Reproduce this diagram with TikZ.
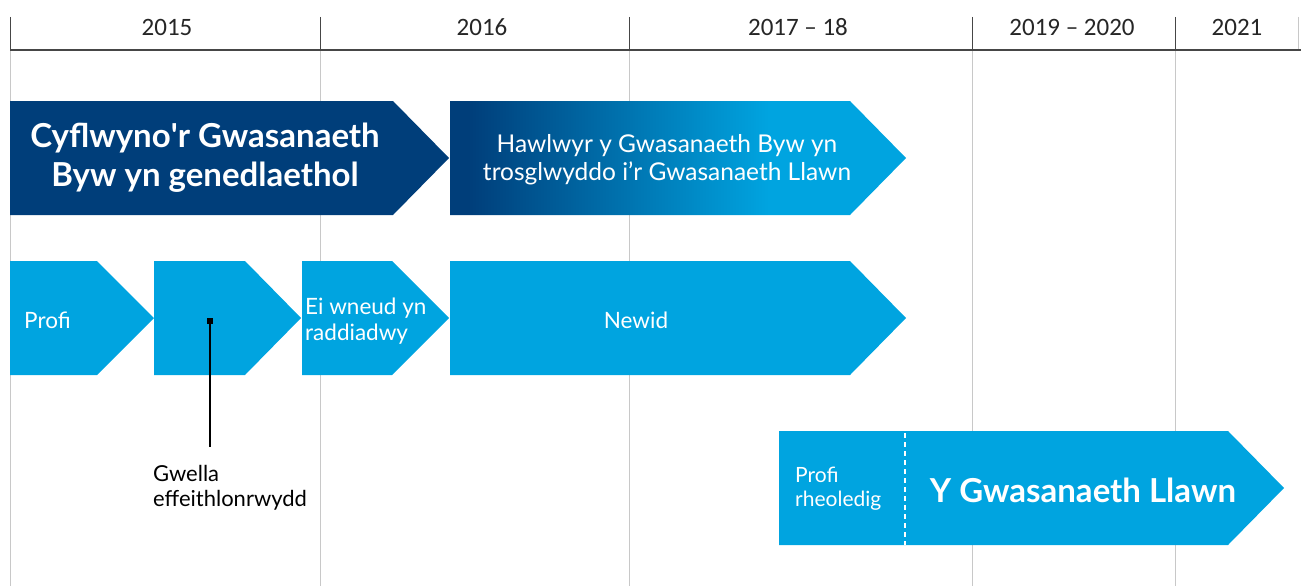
\documentclass[tikz,border=0pt]{standalone}
\usepackage{fontspec}
\usetikzlibrary{calc}
\setmainfont{Lato}
\newfontfamily\yearfont{Carlito}
\definecolor{navy}{RGB}{0,62,122}
\definecolor{sky}{RGB}{0,164,224}
\definecolor{gridgray}{RGB}{200,200,200}
\definecolor{axisgray}{RGB}{70,70,70}
\pgfdeclarehorizontalshading{navysky}{100bp}{color(0bp)=(navy); color(27bp)=(navy); color(60bp)=(sky); color(100bp)=(sky)}
\begin{document}
\begin{tikzpicture}[x=1pt,y=-1pt,
  yearlbl/.style={font=\yearfont\fontsize{25}{28}\selectfont, text=black!85, anchor=center},
  boxtxt/.style={text=white, align=center, inner sep=0pt},
  lighttxt/.style={boxtxt, font=\fontsize{24.5}{28}\selectfont},
  rowtxt/.style={boxtxt, font=\fontsize{22.5}{26}\selectfont},
  boldtxt/.style={boxtxt, font=\bfseries\fontsize{33}{39}\selectfont},
  gridline/.style={draw=gridgray, line width=1pt},
  tickline/.style={draw=axisgray, line width=1pt},
]
\useasboundingbox (0,0) rectangle (1301,586);
% grid lines
\foreach \x in {10,320,629,972,1175} {
  \draw[gridline] (\x,50) -- (\x,586);
  \draw[tickline] (\x,17) -- (\x,50);
}
\draw[gridline] (1298,17) -- (1298,50);
\draw[axisgray, line width=1.5pt] (10,50) -- (1301,50);
% year labels
\node[yearlbl] (y15) at (167,27) {2015};
\node[yearlbl] (y16) at (482,27) {2016};
\node[yearlbl] (y17) at (798,27) {2017 – 18};
\node[yearlbl] (y19) at (1072,27) {2019 – 2020};
\node[yearlbl] (y21) at (1237,27) {2021};
% row 1
\fill[navy] (10,101) -- (393,101) -- (449,158) -- (393,215) -- (10,215) -- cycle;
\node[boldtxt] (live) at (205,158) {Cyflwyno\textquotesingle r Gwasanaeth\\Byw yn genedlaethol};
\shade[shading=navysky] (450,101) -- (850,101) -- (906,158) -- (850,215) -- (450,215) -- cycle;
\node[lighttxt] (transfer) at (667,160) {Hawlwyr y Gwasanaeth Byw yn\\trosglwyddo i’r Gwasanaeth Llawn};
% row 2
\fill[sky] (10,261) -- (97,261) -- (154,318) -- (97,375) -- (10,375) -- cycle;
\node[rowtxt, anchor=west] (profi) at (24,320) {Profi};
\fill[sky] (154,261) -- (245,261) -- (301,318) -- (245,375) -- (154,375) -- cycle;
\fill[sky] (302,261) -- (392,261) -- (449,318) -- (392,375) -- (302,375) -- cycle;
\node[rowtxt, anchor=west, align=left] (scale) at (305,321) {Ei wneud yn\\raddiadwy};
\fill[sky] (450,261) -- (850,261) -- (906,318) -- (850,375) -- (450,375) -- cycle;
\node[rowtxt] (newid) at (636,320) {Newid};
% effectiveness annotation
\coordinate (sq) at (210,321);
\node[anchor=north west, align=left, inner sep=0pt, font=\fontsize{22}{25}\selectfont, text=black] (gwella) at (153,465) {Gwella\\effeithlonrwydd};
\fill[black] ($(sq)+(-3,-3)$) rectangle ($(sq)+(3,3)$);
\draw[black, line width=1.3pt] (sq) -- (sq |- 0,447);
% row 3
\fill[sky] (779,431) -- (1228,431) -- (1284,488) -- (1228,545) -- (779,545) -- cycle;
\draw[white, line width=2.5pt, dash pattern=on 5pt off 4pt] (905,433) -- (905,545);
\node[boxtxt, anchor=west, align=left, font=\fontsize{21}{24}\selectfont] (rheol) at (795,489) {Profi\\rheoledig};
\node[boxtxt, font=\bfseries\fontsize{33}{36}\selectfont] (full) at (1083,490) {Y Gwasanaeth Llawn};
\end{tikzpicture}
\end{document}
